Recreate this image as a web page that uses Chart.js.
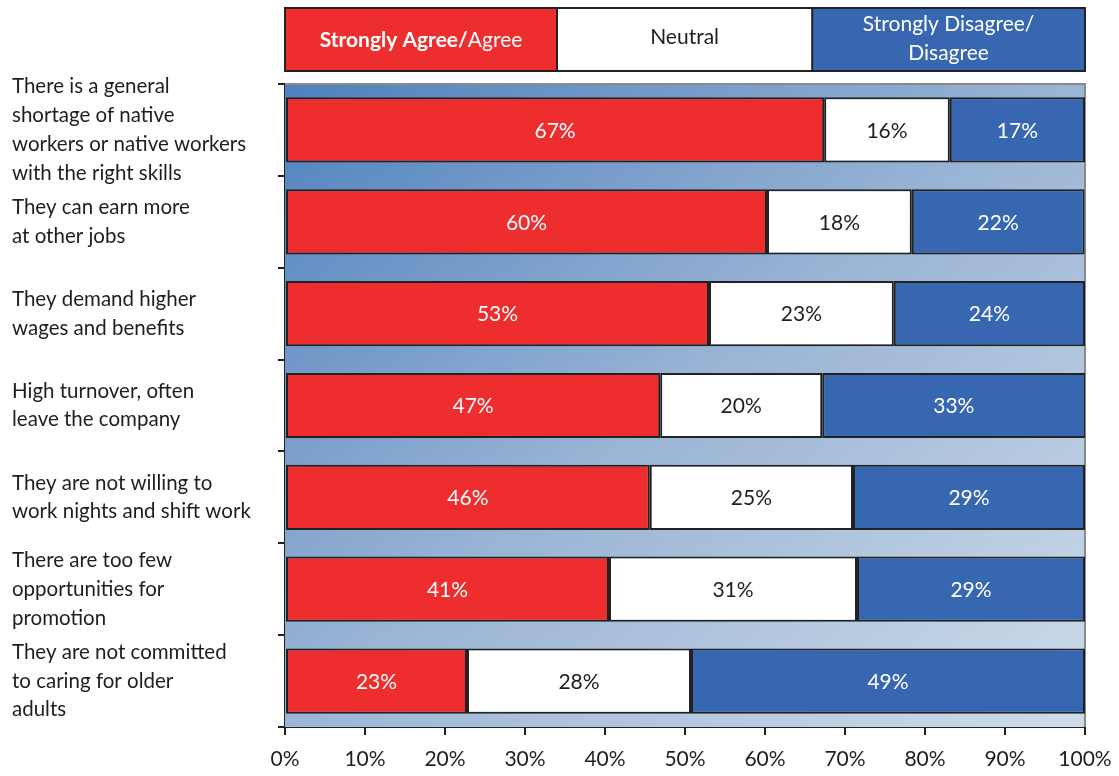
<!DOCTYPE html>
<html>
<head>
<meta charset="utf-8">
<script src="https://cdn.jsdelivr.net/npm/chart.js@4"></script>
<style>
  html, body { margin: 0; padding: 0; background: #fff; }
  #wrap { width: 1119px; height: 776px; }
</style>
</head>
<body>
<div id="wrap"><canvas id="workersChart"></canvas></div>
<script>
// categories (y axis, multi-line)
var categories = [
    ["There is a general", "shortage of native", "workers or native workers", "with the right skills"],
    ["They can earn more", "at other jobs"],
    ["They demand higher", "wages and benefits"],
    ["High turnover, often", "leave the company"],
    ["They are not willing to", "work nights and shift work"],
    ["There are too few", "opportunities for", "promotion"],
    ["They are not committed", "to caring for older", "adults"]
];

// series values in percent
var agreeValues    = [67.4, 60.25, 53.0, 46.9, 45.6, 40.5, 22.75];
var neutralValues  = [15.7, 18.1, 23.1, 20.25, 25.4, 31.0, 28.0];
var disagreeValues = [16.9, 21.6, 23.9, 32.9, 29.0, 28.5, 49.25];

var seriesNames = ["Strongly Agree/Agree", "Neutral", "Strongly Disagree/Disagree"];
var xTickValues = [0, 10, 20, 30, 40, 50, 60, 70, 80, 90, 100];

var RED = '#ee2e2e';
var WHITE = '#ffffff';
var BLUE = '#3867b2';
var INK = '#1e1e1e';
var FONT = 'Lato, "Open Sans", sans-serif';

// gradient background in the plot area
var plotBackground = {
    id: 'plotBackground',
    beforeDatasetsDraw: function (chart) {
        var a = chart.chartArea;
        var ctx = chart.ctx;
        var w = a.right - a.left, h = a.bottom - a.top;
        var k = (2 * w * h) / (w * w + h * h);
        var g = ctx.createLinearGradient(a.left, a.top, a.left + h * k, a.top + w * k);
        g.addColorStop(0, '#4f81bd');
        g.addColorStop(0.5, '#9bb5d5');
        g.addColorStop(1, '#cfdcea');
        ctx.save();
        ctx.fillStyle = g;
        ctx.fillRect(a.left, a.top, w, h);
        ctx.strokeStyle = '#8a8a8a';
        ctx.lineWidth = 2;
        ctx.beginPath();
        ctx.moveTo(a.left, a.top);
        ctx.lineTo(a.right, a.top);
        ctx.lineTo(a.right, a.bottom);
        ctx.stroke();
        ctx.restore();
    }
};

// value labels centred in each segment
var segmentLabels = {
    id: 'segmentLabels',
    afterDatasetsDraw: function (chart) {
        var ctx = chart.ctx;
        ctx.save();
        ctx.font = '21px ' + FONT;
        ctx.textAlign = 'center';
        ctx.textBaseline = 'middle';
        chart.data.datasets.forEach(function (ds, i) {
            var meta = chart.getDatasetMeta(i);
            ctx.fillStyle = i === 1 ? INK : '#ffffff';
            meta.data.forEach(function (bar, j) {
                var cx = (bar.x + bar.base) / 2;
                ctx.fillText(Math.round(ds.data[j]) + '%', cx, bar.y + 1);
            });
        });
        ctx.restore();
    }
};

// boxed legend above the plot
var boxLegend = {
    id: 'boxLegend',
    afterDraw: function (chart) {
        var a = chart.chartArea;
        var ctx = chart.ctx;
        var w = a.right - a.left;
        var edges = [a.left, a.left + w * 0.34, a.left + w * 0.659, a.right];
        var fills = [RED, WHITE, BLUE];
        var top = 8, bottom = 71;
        ctx.save();
        for (var i = 0; i < 3; i++) {
            ctx.fillStyle = fills[i];
            ctx.fillRect(edges[i], top, edges[i + 1] - edges[i], bottom - top);
        }
        ctx.strokeStyle = '#222';
        ctx.lineWidth = 2;
        ctx.strokeRect(edges[0], top, edges[3] - edges[0], bottom - top);
        ctx.beginPath();
        ctx.moveTo(edges[1], top); ctx.lineTo(edges[1], bottom);
        ctx.moveTo(edges[2], top); ctx.lineTo(edges[2], bottom);
        ctx.stroke();

        ctx.textBaseline = 'middle';
        var mid = (top + bottom) / 2;
        // first box: bold part + normal part
        var boldPart = 'Strongly Agree/', normPart = 'Agree';
        ctx.font = 'bold 21px ' + FONT;
        var bw = ctx.measureText(boldPart).width;
        ctx.font = '21px ' + FONT;
        var nw = ctx.measureText(normPart).width;
        var sx = (edges[0] + edges[1]) / 2 - (bw + nw) / 2;
        ctx.textAlign = 'left';
        ctx.fillStyle = '#fff';
        ctx.font = 'bold 21px ' + FONT;
        ctx.fillText(boldPart, sx, mid + 1);
        ctx.font = '21px ' + FONT;
        ctx.fillText(normPart, sx + bw, mid + 1);

        ctx.textAlign = 'center';
        ctx.fillStyle = INK;
        ctx.fillText(seriesNames[1], (edges[1] + edges[2]) / 2, mid - 2);

        ctx.fillStyle = '#fff';
        ctx.fillText('Strongly Disagree/', (edges[2] + edges[3]) / 2, mid - 15);
        ctx.fillText('Disagree', (edges[2] + edges[3]) / 2, mid + 14);
        ctx.restore();
    }
};

function makeSet(label, values, color) {
    return {
        label: label,
        data: values,
        backgroundColor: color,
        borderColor: '#222',
        borderWidth: 2,
        borderSkipped: false,
        categoryPercentage: 1.0,
        barPercentage: 0.71
    };
}

new Chart('workersChart', {
    type: 'bar',
    data: {
        labels: categories,
        datasets: [
            makeSet(seriesNames[0], agreeValues, RED),
            makeSet(seriesNames[1], neutralValues, WHITE),
            makeSet(seriesNames[2], disagreeValues, BLUE)
        ]
    },
    options: {
        indexAxis: 'y',
        responsive: true,
        maintainAspectRatio: false,
        animation: false,
        layout: {
            padding: { top: 84, left: 12, right: 34, bottom: 0 }
        },
        plugins: {
            legend: { display: false },
            tooltip: { enabled: false }
        },
        scales: {
            x: {
                stacked: true,
                min: 0,
                max: 100,
                afterBuildTicks: function (scale) {
                    scale.ticks = xTickValues.map(function (v) { return { value: v }; });
                },
                afterFit: function (scale) {
                    scale.height = 49;
                    scale.paddingLeft = 0;
                    scale.paddingRight = 0;
                },
                ticks: {
                    color: INK,
                    font: { family: FONT, size: 21 },
                    padding: 12,
                    maxRotation: 0,
                    autoSkip: false,
                    callback: function (v) { return v + '%'; }
                },
                grid: {
                    drawOnChartArea: false,
                    color: '#222',
                    lineWidth: 2,
                    tickLength: 8
                },
                border: { display: true, color: '#222', width: 2 }
            },
            y: {
                stacked: true,
                afterFit: function (scale) {
                    scale.width = 273;
                    scale.paddingTop = 0;
                    scale.paddingBottom = 0;
                },
                ticks: {
                    color: INK,
                    crossAlign: 'far',
                    autoSkip: false,
                    font: { family: FONT, size: 20.5, lineHeight: 1.4 },
                    padding: 8
                },
                grid: {
                    offset: true,
                    drawOnChartArea: false,
                    color: '#222',
                    lineWidth: 2,
                    tickLength: 7
                },
                border: { display: true, color: '#222', width: 2 }
            }
        }
    },
    plugins: [plotBackground, segmentLabels, boxLegend]
});
</script>
</body>
</html>
